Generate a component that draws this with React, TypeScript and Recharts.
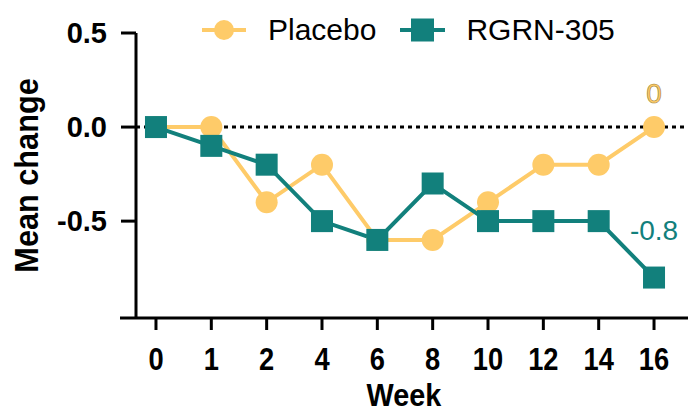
import { LineChart, Line, XAxis, YAxis, ReferenceLine, Legend } from "recharts"

const weeks = ["0", "1", "2", "4", "6", "8", "10", "12", "14", "16"]
const placebo = [0, 0, -0.4, -0.2, -0.6, -0.6, -0.4, -0.2, -0.2, 0]
const rgrn305 = [0, -0.1, -0.2, -0.5, -0.6, -0.3, -0.5, -0.5, -0.5, -0.8]
const yTicks = [-0.5, 0, 0.5]

const YELLOW = "#FECB69"
const TEAL = "#12807C"
const FONT = "'Liberation Sans', Arial, Helvetica, sans-serif"

const data = weeks.map((w, i) => ({ idx: i, week: w, placebo: placebo[i], rgrn: rgrn305[i] }))
const last = weeks.length - 1
const yMin = -1.015

function SquareDot(props: any) {
  const { cx, cy } = props
  if (cx == null || cy == null) return <g />
  return <rect x={cx - 11} y={cy - 11} width={22} height={22} fill={TEAL} />
}

// narrow bold text, like the condensed font of the original
function XTick(props: any) {
  const { x, payload } = props
  return (
    <text
      transform={`translate(${x} 370) scale(0.88 1)`}
      textAnchor="middle"
      fontFamily={FONT}
      fontSize={31}
      fontWeight={700}
      fill="#000"
    >
      {weeks[payload.value]}
    </text>
  )
}

function endLabel(color: string, dy: number, outline?: string) {
  return (p: any) => {
    if (p.index !== last) return <g />
    return (
      <text
        x={p.x}
        y={p.y + dy}
        textAnchor="middle"
        fontFamily={FONT}
        fontSize={28}
        fill={color}
        stroke={outline}
        strokeWidth={outline ? 0.6 : 0}
      >
        {String(p.value)}
      </text>
    )
  }
}

function LegendContent() {
  return (
    <div style={{ display: "flex", alignItems: "center", fontFamily: FONT, fontSize: 30, lineHeight: 1, color: "#000" }}>
      <svg width={44} height={24}>
        <line x1={0} y1={12} x2={44} y2={12} stroke={YELLOW} strokeWidth={4} />
        <circle cx={22} cy={12} r={10} fill={YELLOW} />
      </svg>
      <span style={{ marginLeft: 22 }}>Placebo</span>
      <svg width={45} height={24} style={{ marginLeft: 24 }}>
        <line x1={0} y1={12} x2={45} y2={12} stroke={TEAL} strokeWidth={4} />
        <rect x={11} y={0.5} width={23} height={23} fill={TEAL} />
      </svg>
      <span style={{ marginLeft: 21 }}>RGRN-305</span>
    </div>
  )
}

export default function App() {
  return (
    <div style={{ position: "absolute", left: 0, top: 0, width: 688, height: 414, background: "#fff" }}>
      <LineChart width={688} height={414} data={data} margin={{ top: 33, right: 0, bottom: 0, left: 0 }}>
        <XAxis
          type="number"
          dataKey="idx"
          domain={[-0.361, 9.614]}
          ticks={weeks.map((_, i) => i)}
          allowDataOverflow
          height={96}
          axisLine={false}
          tickLine={{ stroke: "#000", strokeWidth: 3 }}
          tickSize={12}
          tick={<XTick />}
          label={(p: any) => {
            const vb = p.viewBox
            const cx = vb.x + vb.width / 2 - 8
            return (
              <text transform={`translate(${cx} 406) scale(0.93 1)`} textAnchor="middle" fontFamily={FONT} fontSize={31} fontWeight={700} fill="#000">
                Week
              </text>
            )
          }}
        />
        <YAxis
          type="number"
          domain={[yMin, 0.5]}
          ticks={yTicks}
          tickFormatter={(v) => v.toFixed(1)}
          allowDataOverflow
          width={136}
          axisLine={{ stroke: "#000", strokeWidth: 3 }}
          tickLine={{ stroke: "#000", strokeWidth: 3 }}
          tickSize={15}
          tickMargin={14}
          tick={{ fill: "#000", fontSize: 29, fontWeight: 700, fontFamily: FONT }}
          label={(p: any) => {
            const vb = p.viewBox
            const bx = 38
            const cy = vb.y + vb.height / 2
            return (
              <text transform={`translate(${bx} ${cy}) rotate(-90) scale(0.93 1)`} textAnchor="middle" fontFamily={FONT} fontSize={33} fontWeight={700} fill="#000">
                Mean change
              </text>
            )
          }}
        />
        <ReferenceLine y={0} stroke="#000" strokeWidth={3} strokeDasharray="4 4" />
        <ReferenceLine
          segment={[{ x: -0.65, y: yMin }, { x: 9.614, y: yMin }]}
          stroke="#000"
          strokeWidth={3}
          ifOverflow="visible"
        />
        <Legend
          layout="horizontal"
          verticalAlign="middle"
          align="center"
          wrapperStyle={{ top: 15, left: 202, width: 470, height: 30 }}
          content={() => <LegendContent />}
        />
        <Line
          dataKey="placebo"
          stroke={YELLOW}
          strokeWidth={4}
          dot={{ r: 11, fill: YELLOW, stroke: "none" }}
          activeDot={false}
          isAnimationActive={false}
          label={endLabel(YELLOW, -24, "#9a7a2a")}
        />
        <Line
          dataKey="rgrn"
          stroke={TEAL}
          strokeWidth={4}
          dot={<SquareDot />}
          activeDot={false}
          isAnimationActive={false}
          label={endLabel(TEAL, -38)}
        />
      </LineChart>
    </div>
  )
}
